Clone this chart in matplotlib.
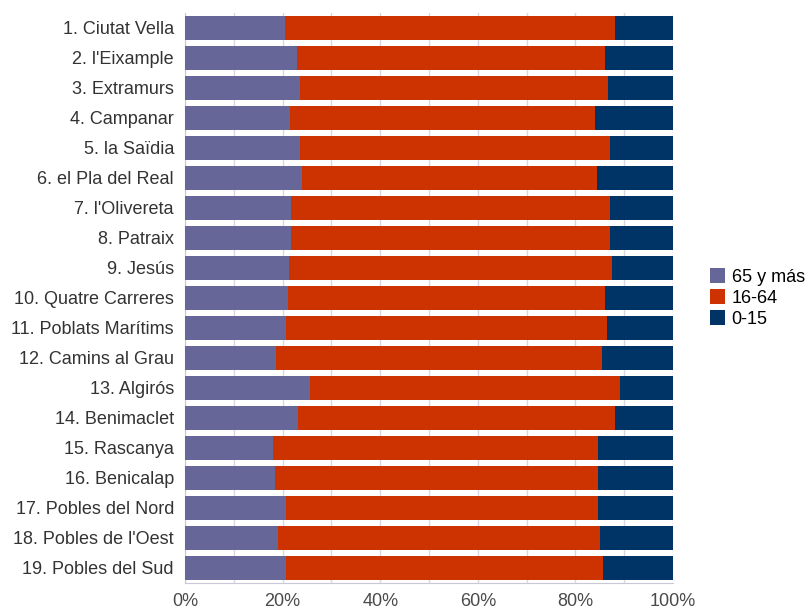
import matplotlib.pyplot as plt
import numpy as np

plt.rcParams['font.family'] = ['Liberation Sans', 'DejaVu Sans']

barrios = ['1. Ciutat Vella', "2. l'Eixample", '3. Extramurs', '4. Campanar',
           '5. la Saïdia', '6. el Pla del Real', "7. l'Olivereta", '8. Patraix',
           '9. Jesús', '10. Quatre Carreres', '11. Poblats Marítims',
           '12. Camins al Grau', '13. Algirós', '14. Benimaclet', '15. Rascanya',
           '16. Benicalap', '17. Pobles del Nord', "18. Pobles de l'Oest",
           '19. Pobles del Sud']

# porcentajes acumulados
mayores = [20.5, 22.9, 23.6, 21.5, 23.6, 23.9, 21.8, 21.8, 21.4, 21.1,
           20.7, 18.7, 25.6, 23.2, 18.0, 18.4, 20.7, 19.0, 20.7]
hasta_adultos = [88.2, 86.1, 86.7, 84.0, 87.1, 84.4, 87.1, 87.1, 87.4, 86.1,
                 86.4, 85.4, 89.2, 88.2, 84.7, 84.7, 84.7, 85.0, 85.7]

mayores = np.array(mayores)
adultos = np.array(hasta_adultos) - mayores
ninos = 100 - np.array(hasta_adultos)

fig = plt.figure(figsize=(8.11, 6.12), dpi=100)
ax = fig.add_axes([185 / 811, 1 - 583 / 612, 488 / 811, 570 / 612])

y = np.arange(len(barrios))
h = 0.77
ax.barh(y, mayores, height=h, color='#666699', label='65 y más', zorder=3)
ax.barh(y, adultos, left=mayores, height=h, color='#CC3300', label='16-64', zorder=3)
ax.barh(y, ninos, left=mayores + adultos, height=h, color='#003366', label='0-15', zorder=3)

fs = 13
ax.set_xlim(0, 100)
ax.set_ylim(len(barrios) - 0.5, -0.5)
ax.set_yticks(y)
ax.set_yticklabels(barrios, fontsize=fs, color='#333333')
ax.set_xticks(np.arange(0, 101, 20))
ax.set_xticklabels([f'{v}%' for v in range(0, 101, 20)], fontsize=fs, color='#4a4a4a')
ax.set_xticks(np.arange(0, 101, 10), minor=True)
ax.grid(axis='x', which='both', color='#d8d8e4', linewidth=1, zorder=0)
ax.tick_params(length=0, which='both')
ax.tick_params(axis='y', pad=8)
ax.tick_params(axis='x', pad=7)

for s in ['top', 'right']:
    ax.spines[s].set_visible(False)
for s in ['left', 'bottom']:
    ax.spines[s].set_color('#c8c8d8')

fig.legend(loc='center left', bbox_to_anchor=(710 / 811, 1 - 298 / 612),
           frameon=False, fontsize=fs, handlelength=0.85, handleheight=0.85,
           handletextpad=0.35, labelspacing=0.2, borderaxespad=0, borderpad=0)

fig.savefig('out.png', dpi=100)
